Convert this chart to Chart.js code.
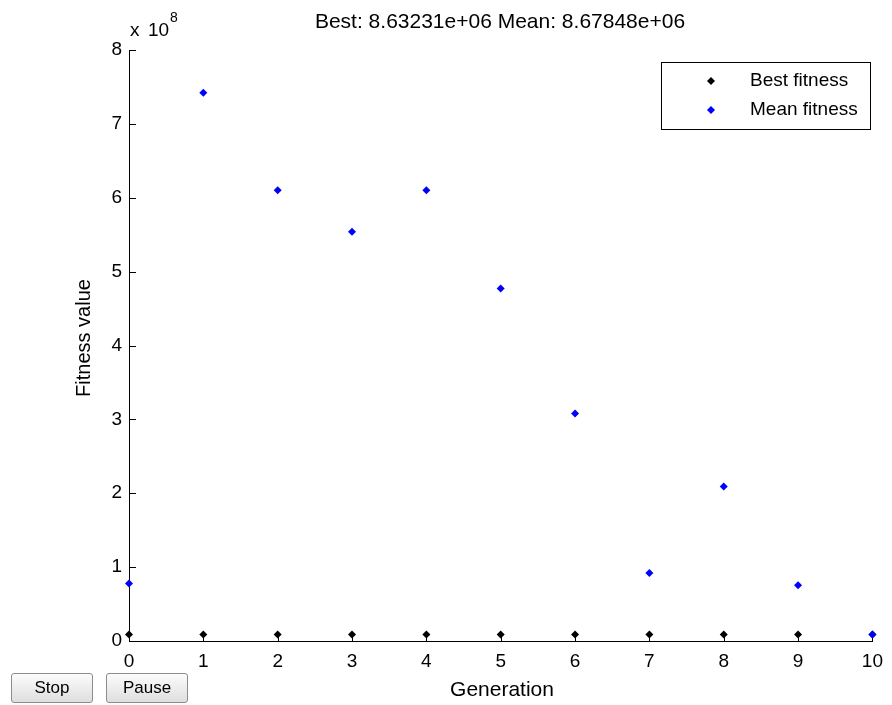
<!DOCTYPE html>
<html lang="en">
<head>
  <meta charset="UTF-8" />
  <title>Genetic Algorithm Progress</title>
  <script src="https://cdn.jsdelivr.net/npm/chart.js"></script>
  <style>
    body {
      margin: 0;
      background: #fff;
      font-family: 'Liberation Sans', Arial, sans-serif;
    }

    .wrap {
      position: relative;
      width: 892px;
      height: 705px;
    }

    .btn {
      position: absolute;
      top: 673px;
      width: 82px;
      height: 30px;
      font-family: 'Liberation Sans', Arial, sans-serif;
      font-size: 17px;
      color: #000;
      background: linear-gradient(#fcfcfc, #dedede);
      border: 1px solid #8c8c8c;
      border-radius: 3px;
      padding: 0;
    }
  </style>
</head>
<body>

  <div class="wrap">
    <canvas id="gaChart" width="892" height="705"></canvas>
    <button class="btn" style="left: 11px;">Stop</button>
    <button class="btn" style="left: 106px;">Pause</button>
  </div>

  <script>
    const generations = [0, 1, 2, 3, 4, 5, 6, 7, 8, 9, 10];
    const bestFitness = [8.9e6, 8.8e6, 8.8e6, 8.7e6, 8.7e6, 8.7e6, 8.7e6, 8.65e6, 8.65e6, 8.64e6, 8.63231e6];
    const meanFitness = [0.78e8, 7.42e8, 6.1e8, 5.54e8, 6.1e8, 4.77e8, 3.08e8, 0.92e8, 2.09e8, 0.755e8, 8.67848e6];
    const yTicks = [0, 1, 2, 3, 4, 5, 6, 7, 8];
    const xTicks = [0, 1, 2, 3, 4, 5, 6, 7, 8, 9, 10];
    const exponent = 8;

    const FONT = "'Liberation Sans', Arial, sans-serif";
    const scaleFactor = Math.pow(10, exponent);

    const fmt = v => v.toExponential(5).replace(/e\+(\d)$/, 'e+0$1');

    // ticks point into the plot, title and labels drawn by hand
    const matlabAxes = {
      id: 'matlabAxes',
      beforeDatasetsDraw(chart) {
        const { ctx, chartArea: area, scales: { x, y } } = chart;
        ctx.save();
        ctx.strokeStyle = '#000';
        ctx.lineWidth = 1;
        ctx.beginPath();
        yTicks.forEach(t => {
          const py = Math.round(y.getPixelForValue(t * scaleFactor)) + 0.5;
          ctx.moveTo(area.left, py);
          ctx.lineTo(area.left + 7, py);
        });
        xTicks.forEach(t => {
          const px = Math.round(x.getPixelForValue(t)) + 0.5;
          ctx.moveTo(px, area.bottom);
          ctx.lineTo(px, area.bottom - 7);
        });
        ctx.stroke();
        ctx.restore();
      },
      afterDraw(chart) {
        const { ctx, data } = chart;
        const best = bestFitness[bestFitness.length - 1];
        const mean = meanFitness[meanFitness.length - 1];
        ctx.save();
        ctx.fillStyle = '#000';
        ctx.textAlign = 'center';
        ctx.textBaseline = 'middle';

        ctx.font = '21px ' + FONT;
        ctx.fillText('Best: ' + fmt(best) + ' Mean: ' + fmt(mean), 500, 22);
        ctx.fillText('Generation', 502, 690);

        ctx.save();
        ctx.translate(84, 338);
        ctx.rotate(-Math.PI / 2);
        ctx.font = '20px ' + FONT;
        ctx.fillText('Fitness value', 0, 0);
        ctx.restore();

        // axis multiplier
        ctx.textAlign = 'left';
        ctx.font = '19px ' + FONT;
        ctx.fillText('x', 130, 31);
        ctx.fillText('10', 148, 31);
        ctx.font = '14px ' + FONT;
        ctx.fillText(String(exponent), 170, 18);

        // legend box
        const lx = 661, ly = 62, lw = 209, lh = 67;
        ctx.fillStyle = '#fff';
        ctx.fillRect(lx, ly, lw, lh);
        ctx.strokeStyle = '#000';
        ctx.lineWidth = 1;
        ctx.strokeRect(lx + 0.5, ly + 0.5, lw, lh);
        ctx.font = '19px ' + FONT;
        data.datasets.forEach((ds, i) => {
          const ry = 81 + i * 29;
          ctx.fillStyle = ds.backgroundColor;
          ctx.beginPath();
          ctx.moveTo(711, ry - 4);
          ctx.lineTo(715, ry);
          ctx.lineTo(711, ry + 4);
          ctx.lineTo(707, ry);
          ctx.closePath();
          ctx.fill();
          ctx.fillStyle = '#000';
          ctx.fillText(ds.label, 750, ry);
        });
        ctx.restore();
      }
    };

    const toPoints = vals => vals.map((v, i) => ({ x: generations[i], y: v }));

    new Chart(document.getElementById('gaChart'), {
      type: 'scatter',
      data: {
        datasets: [
          {
            label: 'Best fitness',
            data: toPoints(bestFitness),
            backgroundColor: '#000000',
            borderColor: '#000000',
            pointStyle: 'rectRot',
            pointRadius: 4,
            borderWidth: 0,
            clip: false,
            order: 1
          },
          {
            label: 'Mean fitness',
            data: toPoints(meanFitness),
            backgroundColor: '#0000ff',
            borderColor: '#0000ff',
            pointStyle: 'rectRot',
            pointRadius: 4,
            borderWidth: 0,
            clip: false,
            order: 0
          }
        ]
      },
      options: {
        responsive: false,
        animation: false,
        layout: {
          padding: { top: 50, right: 14, left: 0, bottom: 0 }
        },
        plugins: {
          legend: { display: false },
          tooltip: { enabled: false }
        },
        scales: {
          x: {
            type: 'linear',
            min: 0,
            max: 10,
            afterFit: s => { s.height = 64; },
            afterBuildTicks: s => { s.ticks = xTicks.map(v => ({ value: v })); },
            grid: { display: false, drawTicks: false },
            border: { display: true, color: '#000', width: 1 },
            ticks: {
              color: '#000',
              padding: 9,
              maxRotation: 0,
              font: { family: FONT, size: 19 }
            }
          },
          y: {
            type: 'linear',
            min: 0,
            max: 8 * scaleFactor,
            afterFit: s => { s.width = 129; },
            afterBuildTicks: s => { s.ticks = yTicks.map(v => ({ value: v * scaleFactor })); },
            grid: { display: false, drawTicks: false },
            border: { display: true, color: '#000', width: 1 },
            ticks: {
              color: '#000',
              padding: 7,
              font: { family: FONT, size: 19 },
              callback: v => String(Math.round(v / scaleFactor))
            }
          }
        }
      },
      plugins: [matlabAxes]
    });
  </script>

</body>
</html>
